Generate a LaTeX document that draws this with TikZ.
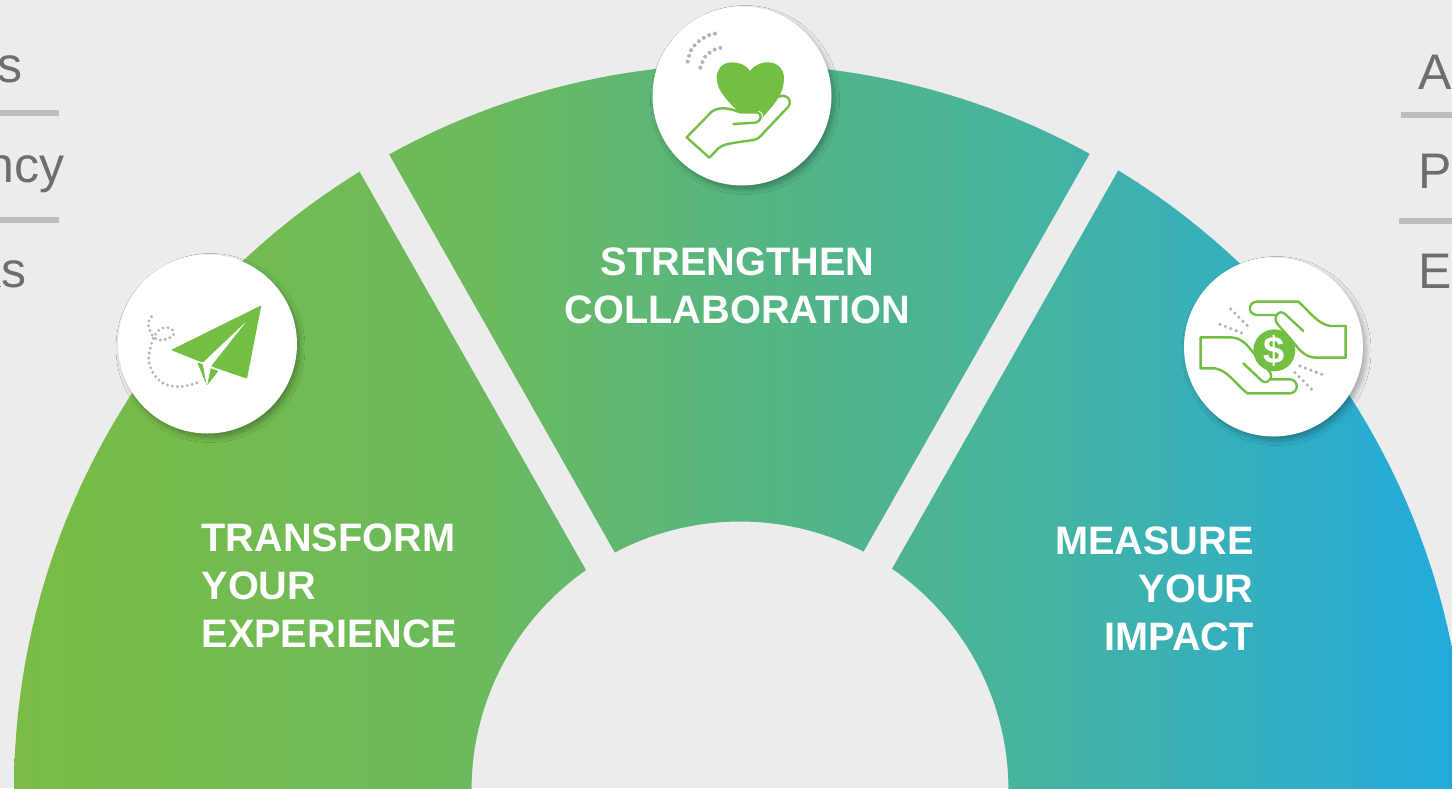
\documentclass[tikz,border=0pt]{standalone}
\usepackage{fontspec}
\setmainfont{Liberation Sans}
\usetikzlibrary{shadows.blur}
\definecolor{bggrey}{HTML}{ECECEC}
\definecolor{rulegrey}{HTML}{BDBDBD}
\definecolor{textgrey}{HTML}{6D6E71}
\definecolor{dotgrey}{HTML}{B5B5B8}
\definecolor{icongreen}{HTML}{72BF44}
\definecolor{arcone}{HTML}{7ABC44}
\definecolor{arctwo}{HTML}{6BBA5E}
\definecolor{arcthree}{HTML}{56B581}
\definecolor{arcfour}{HTML}{48B49B}
\definecolor{arcfive}{HTML}{22AADF}
\pgfdeclarehorizontalshading{arcfill}{100bp}{
    color(0bp)=(arcone);
    color(25bp)=(arcone);
    color(41.4bp)=(arctwo);
    color(50bp)=(arcthree);
    color(59bp)=(arcfour);
    color(75bp)=(arcfive);
    color(100bp)=(arcfive)}
\tikzset{
    iconback/.style={circle,fill=white,minimum size=89.5pt,inner sep=0pt,
        blur shadow={shadow xshift=1.5pt,shadow yshift=-2pt,shadow blur radius=2.5pt,shadow opacity=30,shadow blur steps=12}},
    heading/.style={inner sep=0pt,text=white,font=\bfseries\fontsize{19.85}{24}\selectfont},
    sidetext/.style={inner sep=0pt,text=textgrey,font=\fontsize{25}{28}\selectfont},
    siderule/.style={rulegrey,line width=2.8pt},
    zoomed/.style={shift={#1},x=0.16667pt,y=-0.16667pt},
    dotline/.style 2 args={dotgrey,line cap=round,line width=#1,dash pattern=on 0pt off #2},
    handline/.style={icongreen,line width=#1,line join=round,line cap=round}
}
\begin{document}
\begin{tikzpicture}[x=0.5pt,y=-0.5pt]
    \useasboundingbox[fill=bggrey] (0,0) rectangle (1452,788);
    % the three sectors share one gradient
    \foreach \outa/\outb/\ina/\inb in {180/238.4/235/180, 241.1/298.8/297.4/242.2, 301.4/360/360/304.5} {
        \begin{scope}
            \clip plot[domain=\outa:\outb,samples=60] ({740+726*cos(\x)},{790+726*sin(\x)})
                -- plot[domain=\ina:\inb,samples=40] ({740+268.5*cos(\x)},{790+268.5*sin(\x)}) -- cycle;
            \shade[shading=arcfill] (14,60) rectangle (1466,792);
        \end{scope}
    }
    % side lists, cut off by the page
    \node[sidetext,anchor=base east] (leftone) at (23,82) {s};
    \node[sidetext,anchor=base east] (lefttwo) at (65,182) {ncy};
    \node[sidetext,anchor=base east] (leftthree) at (27,287) {ks};
    \node[sidetext,anchor=base west] (rightone) at (1418,89) {A};
    \node[sidetext,anchor=base west] (righttwo) at (1418,188) {P};
    \node[sidetext,anchor=base west] (rightthree) at (1418,288) {E};
    \draw[siderule] (0,113) -- (59,113);
    \draw[siderule] (0,220) -- (59,220);
    \draw[siderule] (1401,115) -- (1452,115);
    \draw[siderule] (1399,221) -- (1452,221);
    % headings
    \node[heading,align=left] (transform) at (329.5,586) {TRANSFORM\\YOUR\\EXPERIENCE};
    \node[heading,align=center] (strengthen) at (737.5,286) {STRENGTHEN\\COLLABORATION};
    \node[heading,align=right,anchor=east] (measure) at (1254,589) {MEASURE\\YOUR\\IMPACT};
    % icon discs
    \node[iconback] (planeback) at (207.5,344) {};
    \node[iconback] (heartback) at (742,96) {};
    \node[iconback] (coinback) at (1273.5,347) {};
    % paper plane
    \begin{scope}[zoomed={(100,240)}]
        \fill[icongreen,rounded corners=0.5pt] (213,330) -- (484,196) -- (441,416) -- (333,379) -- (443,240) -- (308,368) -- cycle;
        \fill[icongreen] (292,368) -- (308,372) -- (320,435) -- cycle;
        \fill[icongreen] (332,385) -- (355,393) -- (322,435) -- cycle;
        \draw[dotline={1.6pt}{2.5pt}] plot[smooth,tension=0.7] coordinates {(155,230) (145,255) (165,295) (200,297) (222,280) (205,263) (175,272) (155,310) (148,370) (180,423) (235,440) (292,428)};
    \end{scope}
    % heart in a hand
    \begin{scope}[zoomed={(640,0)}]
        \fill[icongreen] (330,213) .. controls (315,190) and (290,187) .. (275,187) .. controls (245,187) and (230,210) .. (230,235)
            .. controls (230,270) and (265,305) .. (285,325) -- (292,335) -- (358,333) .. controls (368,335) and (370,345) .. (368,352)
            .. controls (390,325) and (432,290) .. (432,235) .. controls (432,205) and (410,187) .. (385,187)
            .. controls (360,187) and (340,198) .. cycle;
        \draw[handline=1.2pt] (280,372) -- (345,368) .. controls (365,365) and (368,340) .. (352,337) -- (300,337)
            .. controls (270,325) and (240,318) .. (215,335) -- (140,412) -- (208,473) -- (235,445)
            .. controls (250,432) and (270,430) .. (340,420) .. controls (355,418) and (365,405) .. (372,397) -- (445,320)
            .. controls (458,300) and (440,280) .. (418,290);
        \draw[dotline={2pt}{3pt}] plot[smooth] coordinates {(143,185) (154,148) (181,120) (215,102) (236,100)};
        \draw[dotline={2pt}{3pt}] plot[smooth] coordinates {(181,203) (196,169) (227,147) (246,143)};
    \end{scope}
    % dollar between two hands
    \begin{scope}[zoomed={(1170,245)}]
        \node[circle,fill=icongreen,minimum size=21pt,inner sep=0pt] (coin) at (313,316) {};
        \node[inner sep=0pt,text=white,font=\bfseries\fontsize{19}{19}\selectfont] (dollar) at (313,316) {\$};
        \draw[handline=1.2pt] (527,243) -- (480,243) .. controls (440,235) and (420,200) .. (385,170) -- (260,170)
            .. controls (233,172) and (233,208) .. (260,210) -- (315,210);
        \draw[handline=1.2pt] (400,258) -- (345,207) .. controls (325,190) and (305,220) .. (325,240) -- (375,298)
            .. controls (395,325) and (415,338) .. (440,338) -- (527,338) -- (527,243);
        \draw[handline=1.2pt] (92,370) -- (135,370) .. controls (175,378) and (195,415) .. (232,445) -- (360,445)
            .. controls (387,443) and (387,405) .. (360,403) -- (302,403);
        \draw[handline=1.2pt] (220,355) -- (275,407) .. controls (295,422) and (315,395) .. (295,375) -- (243,315)
            .. controls (225,290) and (205,277) .. (180,277) -- (92,277) -- (92,370);
        \draw[dotline={1.8pt}{2.9pt}] (182,192) -- (234,244);
        \draw[dotline={1.8pt}{2.9pt}] (150,238) -- (220,266);
        \draw[dotline={1.8pt}{2.9pt}] (390,363) -- (460,390);
        \draw[dotline={1.8pt}{2.9pt}] (375,383) -- (428,436);
    \end{scope}
\end{tikzpicture}
\end{document}
